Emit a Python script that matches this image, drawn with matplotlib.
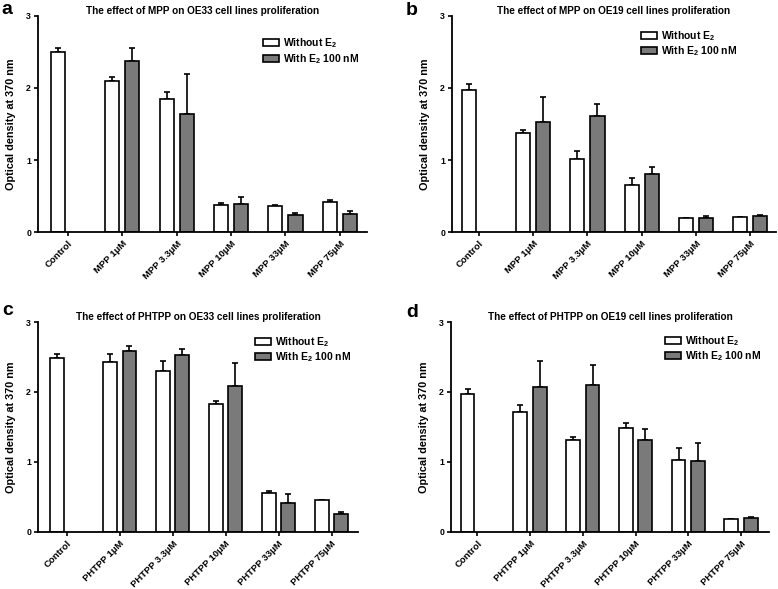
import numpy as np
import matplotlib
matplotlib.use("Agg")
import matplotlib.pyplot as plt
from matplotlib.patches import Patch

plt.rcParams['font.family'] = ['Liberation Sans', 'DejaVu Sans']
plt.rcParams['font.weight'] = 'bold'
plt.rcParams['mathtext.fontset'] = 'custom'
plt.rcParams['mathtext.rm'] = 'Liberation Sans:bold'
plt.rcParams['mathtext.bf'] = 'Liberation Sans:bold'
plt.rcParams['mathtext.it'] = 'Liberation Sans:bold:italic'
plt.rcParams['mathtext.default'] = 'bf'

# tick labels
mpp_labels = ["Control", "MPP 1μM", "MPP 3.3μM", "MPP 10μM", "MPP 33μM", "MPP 75μM"]
phtpp_labels = ["Control", "PHTPP 1μM", "PHTPP 3.3μM", "PHTPP 10μM", "PHTPP 33μM", "PHTPP 75μM"]

# a: MPP on OE33
a_without = [2.50, 2.09, 1.84, 0.37, 0.36, 0.42]
a_without_err = [0.05, 0.06, 0.10, 0.03, 0.01, 0.02]
a_with = [np.nan, 2.38, 1.64, 0.39, 0.24, 0.25]
a_with_err = [0, 0.17, 0.56, 0.09, 0.02, 0.04]

# b: MPP on OE19
b_without = [1.97, 1.38, 1.01, 0.65, 0.19, 0.21]
b_without_err = [0.08, 0.03, 0.12, 0.10, 0.005, 0.005]
b_with = [np.nan, 1.53, 1.61, 0.80, 0.20, 0.22]
b_with_err = [0, 0.34, 0.17, 0.10, 0.02, 0.01]

# c: PHTPP on OE33
c_without = [2.49, 2.43, 2.30, 1.83, 0.55, 0.45]
c_without_err = [0.06, 0.11, 0.15, 0.04, 0.03, 0.01]
c_with = [np.nan, 2.58, 2.53, 2.09, 0.41, 0.26]
c_with_err = [0, 0.08, 0.08, 0.33, 0.13, 0.02]

# d: PHTPP on OE19
d_without = [1.97, 1.72, 1.32, 1.49, 1.035, 0.18]
d_without_err = [0.07, 0.10, 0.04, 0.06, 0.17, 0.005]
d_with = [np.nan, 2.07, 2.10, 1.32, 1.02, 0.195]
d_with_err = [0, 0.37, 0.28, 0.15, 0.25, 0.015]

GRAY = '#7a7a7a'
W = 0.26
OFF = 0.185
FW, FH = 778, 589

fig = plt.figure(figsize=(FW / 100, FH / 100), dpi=100)


def panel(rect, letter, letter_xy, title, labels, wo, wo_err, wi, wi_err, xlim, leg_anchor):
    ax = fig.add_axes(rect)
    x = np.arange(len(labels))
    ax.bar(x - OFF, wo, W, color='white', edgecolor='black', linewidth=1.2, zorder=2)
    ax.bar(x + OFF, wi, W, color=GRAY, edgecolor='black', linewidth=1.2, zorder=2)
    ax.errorbar(x - OFF, wo, yerr=[np.zeros(len(wo)), wo_err], fmt='none',
                ecolor='black', elinewidth=1.2, capsize=2.5, capthick=1.2, zorder=1)
    wi_arr = np.array(wi)
    ok = ~np.isnan(wi_arr)
    ax.errorbar((x + OFF)[ok], wi_arr[ok], yerr=[np.zeros(ok.sum()), np.array(wi_err)[ok]],
                fmt='none', ecolor='black', elinewidth=1.2, capsize=2.5, capthick=1.2, zorder=1)

    ax.set_xlim(*xlim)
    ax.set_ylim(0, 3)
    ax.set_yticks([0, 1, 2, 3])
    ax.set_xticks(x)
    ax.set_xticklabels(labels, rotation=45, ha='right', rotation_mode='anchor',
                       fontsize=6.8, fontweight='bold')
    ax.tick_params(axis='y', labelsize=6.3, length=3, width=1.2, pad=2)
    ax.tick_params(axis='x', length=3, width=1.2, pad=2)
    for s in ['top', 'right']:
        ax.spines[s].set_visible(False)
    for s in ['left', 'bottom']:
        ax.spines[s].set_linewidth(1.3)
    ax.set_ylabel('Optical density at 370 nm', fontsize=7.8, fontweight='bold', labelpad=7)
    ax.set_title(title, fontsize=7.2, fontweight='bold', pad=-1.5)

    handles = [Patch(facecolor='white', edgecolor='black', linewidth=1.2),
               Patch(facecolor=GRAY, edgecolor='black', linewidth=1.2)]
    ax.legend(handles, ['Without E$_2$', 'With E$_2$ 100 nM'], loc='upper left',
              bbox_to_anchor=leg_anchor, frameon=False, fontsize=7.5,
              handlelength=1.5, handleheight=0.7, handletextpad=0.4,
              labelspacing=0.15, borderaxespad=0, borderpad=0)
    fig.text(letter_xy[0] / FW, 1 - letter_xy[1] / FH, letter, fontsize=14,
             fontweight='bold', va='baseline')
    return ax


panel([38 / FW, 0.606, 329 / FW, 0.367], 'a', (1, 14),
      'The effect of MPP on OE33 cell lines proliferation',
      mpp_labels, a_without, a_without_err, a_with, a_with_err,
      (-0.55, 5.5), (0.684, 0.905))
panel([452 / FW, 0.606, 324 / FW, 0.367], 'b', (406, 15),
      'The effect of MPP on OE19 cell lines proliferation',
      mpp_labels, b_without, b_without_err, b_with, b_with_err,
      (-0.5, 5.48), (0.583, 0.94))
panel([38 / FW, 0.0968, 320 / FW, 0.3565], 'c', (2, 315),
      'The effect of PHTPP on OE33 cell lines proliferation',
      phtpp_labels, c_without, c_without_err, c_with, c_with_err,
      (-0.54, 5.5), (0.678, 0.938))
panel([451 / FW, 0.0968, 318 / FW, 0.3565], 'd', (406, 317),
      'The effect of PHTPP on OE19 cell lines proliferation',
      phtpp_labels, d_without, d_without_err, d_with, d_with_err,
      (-0.5, 5.53), (0.673, 0.943))

fig.savefig('out.png', dpi=100)
